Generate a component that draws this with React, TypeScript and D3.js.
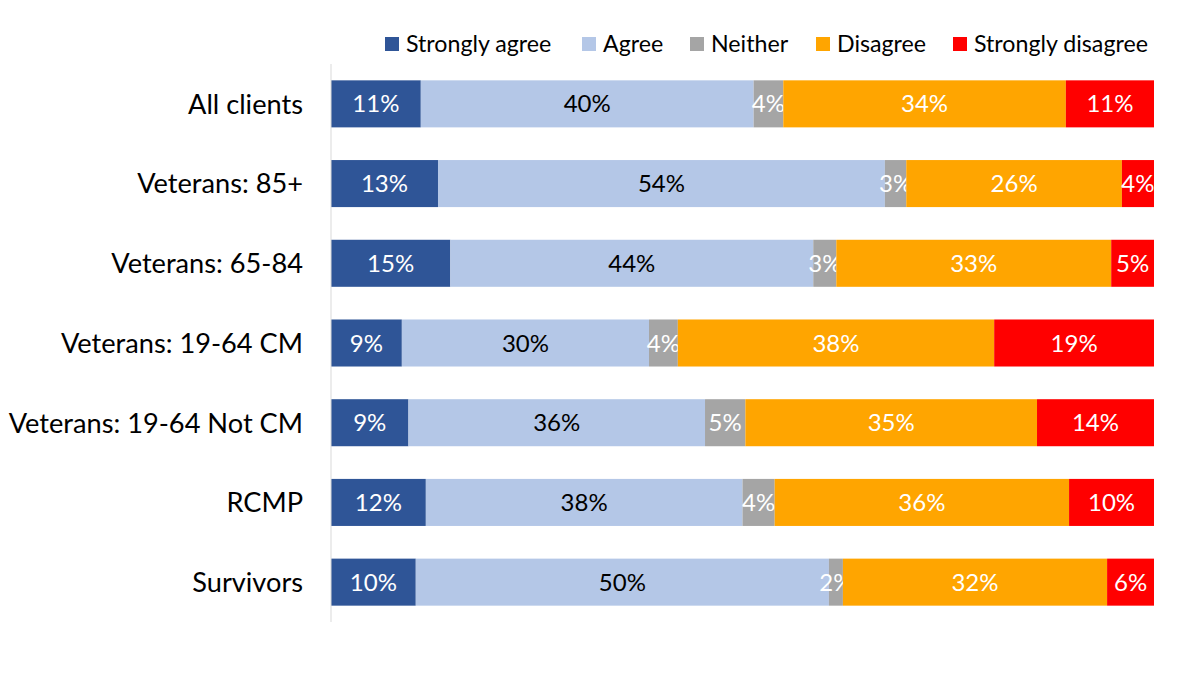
import { scaleBand, scaleLinear, stack } from "d3";

const categories = [
    "All clients",
    "Veterans: 85+",
    "Veterans: 65-84",
    "Veterans: 19-64 CM",
    "Veterans: 19-64 Not CM",
    "RCMP",
    "Survivors",
];

const seriesNames = ["Strongly agree", "Agree", "Neither", "Disagree", "Strongly disagree"];
const seriesColors = ["#2F5597", "#B4C7E7", "#A5A5A5", "#FFA500", "#FF0000"];
const labelColors = ["#ffffff", "#000000", "#ffffff", "#ffffff", "#ffffff"];

// percentages, per category
const stronglyAgree = [10.9, 13.0, 14.5, 8.6, 9.4, 11.5, 10.3];
const agree = [40.4, 54.3, 44.1, 30.0, 36.0, 38.4, 50.2];
const neither = [3.6, 2.6, 2.8, 3.5, 4.9, 3.9, 1.7];
const disagree = [34.3, 26.2, 33.4, 38.4, 35.4, 35.7, 32.1];
const stronglyDisagree = [10.7, 3.9, 5.2, 19.4, 14.2, 10.3, 5.7];

const W = 1200;
const H = 675;
const plotLeft = 331;
const plotRight = 1154;
const plotTop = 64;
const plotBottom = 622;
const font = "Lato, 'Noto Sans', sans-serif";

export default function App() {
    const values = [stronglyAgree, agree, neither, disagree, stronglyDisagree];

    // normalise each row to 100% like a 100% stacked bar
    const rows = categories.map((c, i) => {
        const total = values.reduce((s, v) => s + v[i], 0);
        const o: Record<string, number | string> = { cat: c };
        seriesNames.forEach((k, si) => (o[k] = (values[si][i] / total) * 100));
        return o;
    });

    const stacked = stack<Record<string, number | string>>().keys(seriesNames)(rows as any);

    const x = scaleLinear().domain([0, 100]).range([plotLeft, plotRight]);
    const y = scaleBand().domain(categories).range([plotTop, plotBottom]).paddingInner(0.41).paddingOuter(0.205);

    const legendX = [385, 582, 690, 816, 953];

    return (
        <div style={{ position: "absolute", left: 0, top: 0 }}>
            <svg width={W} height={H} style={{ display: "block", background: "#fff" }}>
                {/* legend */}
                {seriesNames.map((s, i) => (
                    <g key={s} transform={`translate(${legendX[i]},44)`}>
                        <rect x={0} y={-7} width={14} height={14} fill={seriesColors[i]} />
                        <text x={21} y={0} dy="0.35em" fontFamily={font} fontSize={23.2} fill="#000">
                            {s}
                        </text>
                    </g>
                ))}

                {/* bars */}
                {stacked.map((layer, si) =>
                    layer.map((d, ci) => {
                        const cat = categories[ci];
                        const x0 = x(d[0]);
                        const x1 = x(d[1]);
                        const yy = y(cat) ?? 0;
                        return (
                            <g key={`${si}-${ci}`}>
                                <rect x={x0} y={yy} width={x1 - x0} height={y.bandwidth()} fill={seriesColors[si]} />
                                <text
                                    x={(x0 + x1) / 2}
                                    y={yy + y.bandwidth() / 2}
                                    dy="0.36em"
                                    textAnchor="middle"
                                    fontFamily={font}
                                    fontSize={24}
                                    fill={labelColors[si]}
                                >
                                    {Math.round(values[si][ci])}%
                                </text>
                            </g>
                        );
                    }),
                )}

                {/* vertical axis */}
                <line x1={plotLeft} x2={plotLeft} y1={plotTop} y2={plotBottom} stroke="#d9d9d9" strokeWidth={1} />

                {/* category labels */}
                {categories.map((c) => (
                    <text
                        key={c}
                        x={303}
                        y={(y(c) ?? 0) + y.bandwidth() / 2}
                        dy="0.36em"
                        textAnchor="end"
                        fontFamily={font}
                        fontSize={27.2}
                        fill="#000"
                    >
                        {c}
                    </text>
                ))}
            </svg>
        </div>
    );
}
